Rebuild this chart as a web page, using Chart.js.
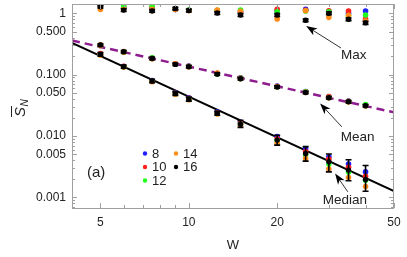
<!DOCTYPE html>
<html>
<head>
<meta charset="utf-8">
<script src="https://cdn.jsdelivr.net/npm/chart.js@4.4.1/dist/chart.umd.min.js"></script>
<style>
  html, body { margin: 0; padding: 0; background: #fff; }
  #wrap { width: 407px; height: 257px; }
</style>
</head>
<body>
<div id="wrap"><canvas id="chart" width="407" height="257"></canvas></div>
<script>
// system widths W
var W = [5, 6, 7.5, 9, 10, 12.5, 15, 20, 25, 30, 35, 40];

// N values and their colours
var sizes = ['8', '10', '12', '14', '16'];
var colors = ['#1f1fff', '#ff1f1f', '#1fff1f', '#ff8c1a', '#000000'];

// maximum S_N for each N
var max8  = [1.30, 1.22, 1.20, 1.15, 1.12, 1.08, 1.05, 1.10, 1.16, 1.05, 1.00, 1.09];
var max10 = [1.32, 1.25, 1.24, 1.17, 1.12, 1.10, 1.06, 1.16, 1.12, 1.10, 1.09, 0.81];
var max12 = [1.37, 1.32, 1.32, 1.18, 1.13, 1.12, 1.13, 1.06, 1.09, 1.06, 0.91, 0.94];
var max14 = [1.16, 1.15, 1.16, 1.15, 1.10, 1.13, 1.08, 0.81, 1.10, 0.86, 0.93, 0.75];
var max16 = [1.28, 1.13, 1.09, 1.20, 1.11, 1.01, 0.94, 0.94, 0.77, 1.00, 0.80, 0.70];

// mean S_N
var mean8  = [0.300, 0.232, 0.186, 0.149, 0.138, 0.104, 0.089, 0.0650, 0.0530, 0.0430, 0.0372, 0.0318];
var mean10 = [0.306, 0.238, 0.187, 0.150, 0.137, 0.105, 0.088, 0.0640, 0.0520, 0.0440, 0.0368, 0.0320];
var mean12 = [0.302, 0.235, 0.188, 0.148, 0.136, 0.103, 0.087, 0.0635, 0.0525, 0.0425, 0.0365, 0.0325];
var mean14 = [0.298, 0.233, 0.182, 0.151, 0.134, 0.106, 0.086, 0.0638, 0.0515, 0.0422, 0.0358, 0.0308];
var mean16 = [0.304, 0.236, 0.184, 0.147, 0.135, 0.102, 0.0857, 0.0628, 0.0513, 0.0420, 0.0361, 0.0311];

// median S_N
var med8  = [0.216, 0.136, 0.080, 0.051, 0.042, 0.0245, 0.0168, 0.0098, 0.0062, 0.0046, 0.0035, 0.0026];
var med10 = [0.222, 0.137, 0.079, 0.050, 0.041, 0.0240, 0.0162, 0.0090, 0.0056, 0.0042, 0.0031, 0.0022];
var med12 = [0.212, 0.134, 0.078, 0.049, 0.040, 0.0232, 0.0155, 0.0084, 0.0049, 0.0035, 0.0026, 0.0019];
var med14 = [0.210, 0.133, 0.077, 0.048, 0.039, 0.0228, 0.0150, 0.0076, 0.0043, 0.0029, 0.0021, 0.0015];
var med16 = [0.214, 0.135, 0.0787, 0.0495, 0.040, 0.0234, 0.0156, 0.00857, 0.0052, 0.0038, 0.00278, 0.00196];

// error bars (N = 16)
var maxLo16  = [1.22, 1.07, 1.04, 1.14, 1.05, 0.96, 0.89, 0.89, 0.73, 0.95, 0.76, 0.66];
var maxHi16  = [1.35, 1.19, 1.15, 1.26, 1.17, 1.06, 0.99, 0.99, 0.81, 1.05, 0.84, 0.74];
var meanLo16 = [0.290, 0.226, 0.176, 0.141, 0.129, 0.098, 0.0820, 0.0600, 0.0490, 0.0401, 0.0345, 0.0297];
var meanHi16 = [0.318, 0.247, 0.192, 0.154, 0.141, 0.107, 0.0895, 0.0657, 0.0537, 0.0440, 0.0378, 0.0326];
var medLo16  = [0.200, 0.127, 0.074, 0.046, 0.037, 0.0218, 0.0138, 0.0071, 0.0039, 0.0026, 0.00186, 0.00126];
var medHi16  = [0.229, 0.144, 0.084, 0.053, 0.043, 0.0252, 0.0180, 0.0103, 0.0067, 0.0051, 0.0041, 0.0033];

// fitted lines (end points)
var meanFitW = [4, 50];
var meanFitS = [0.36, 0.0243];
var medFitW = [4, 50];
var medFitS = [0.33, 0.00126];

// ticks
var xTicks = [5, 10, 20, 50];
var yTicks = [0.001, 0.005, 0.01, 0.05, 0.1, 0.5, 1];
var yTickLabels = ['0.001', '0.005', '0.010', '0.050', '0.100', '0.500', '1'];

var maxSets = [max8, max10, max12, max14, max16];
var meanSets = [mean8, mean10, mean12, mean14, mean16];
var medSets = [med8, med10, med12, med14, med16];

function pts(xs, ys) {
  return xs.map(function(x, i) { return { x: x, y: ys[i] }; });
}

var datasets = [];
sizes.forEach(function(n, k) {
  [maxSets, meanSets, medSets].forEach(function(group) {
    datasets.push({
      type: 'scatter',
      label: n,
      data: pts(W, group[k]),
      backgroundColor: colors[k],
      borderWidth: 0,
      pointRadius: k === 4 ? 2.7 : 2.8,
      order: 10 - k
    });
  });
});
datasets.push({
  type: 'line', label: 'meanfit', data: pts(meanFitW, meanFitS),
  borderColor: '#8e1c8e', borderWidth: 2.5, borderDash: [8, 5],
  pointRadius: 0, fill: false, order: 20
});
datasets.push({
  type: 'line', label: 'medfit', data: pts(medFitW, medFitS),
  borderColor: '#000', borderWidth: 2, pointRadius: 0, fill: false, order: 20
});

var errorBars = [[maxLo16, maxHi16], [meanLo16, meanHi16], [medLo16, medHi16]];

// annotations: [text, textW, textS, tailW, tailS, headW, headS]
var notes = [
  ['Max', 33, 0.209, 33, 0.272, 25.1, 0.62],
  ['Mean', 32.9, 0.0096, 33.2, 0.0141, 28, 0.034],
  ['Median', 28.6, 0.0009, 34.8, 0.00123, 31.5, 0.00245]
];

var FONT = '"Liberation Sans", Arial, sans-serif';

var extras = {
  id: 'extras',
  afterDatasetsDraw: function(chart) {
    var ctx = chart.ctx, xs = chart.scales.x, ys = chart.scales.y;
    var a = chart.chartArea;
    ctx.save();
    // error bars
    ctx.strokeStyle = '#000';
    ctx.lineWidth = 1.6;
    errorBars.forEach(function(eb) {
      W.forEach(function(w, i) {
        var x = xs.getPixelForValue(w);
        var y1 = ys.getPixelForValue(eb[0][i]);
        var y2 = ys.getPixelForValue(eb[1][i]);
        ctx.beginPath();
        ctx.moveTo(x, y1); ctx.lineTo(x, y2);
        ctx.moveTo(x - 3, y1); ctx.lineTo(x + 3, y1);
        ctx.moveTo(x - 3, y2); ctx.lineTo(x + 3, y2);
        ctx.stroke();
      });
    });
    // frame with inward ticks
    ctx.strokeStyle = '#a0a0a0';
    ctx.lineWidth = 1;
    ctx.strokeRect(a.left + 0.5, a.top + 0.5, a.right - a.left - 1, a.bottom - a.top);
    var dec, m, v, p, len;
    for (dec = 0; dec <= 1; dec++) {
      for (m = 1; m <= 9; m++) {
        v = m * Math.pow(10, dec);
        if (v < xs.min || v > xs.max) continue;
        p = Math.round(xs.getPixelForValue(v)) + 0.5;
        len = xTicks.indexOf(v) >= 0 ? 5 : 3;
        ctx.beginPath();
        ctx.moveTo(p, a.bottom); ctx.lineTo(p, a.bottom - len);
        ctx.moveTo(p, a.top); ctx.lineTo(p, a.top + len);
        ctx.stroke();
      }
    }
    for (dec = -4; dec <= 0; dec++) {
      for (m = 1; m <= 9; m++) {
        v = m * Math.pow(10, dec);
        if (v < ys.min || v > ys.max) continue;
        p = Math.round(ys.getPixelForValue(v)) + 0.5;
        len = (m === 1 || m === 5) ? 5 : 3;
        ctx.beginPath();
        ctx.moveTo(a.left, p); ctx.lineTo(a.left + len, p);
        ctx.moveTo(a.right, p); ctx.lineTo(a.right - len, p);
        ctx.stroke();
      }
    }
    // legend
    ctx.font = '13px ' + FONT;
    ctx.textBaseline = 'middle';
    ctx.textAlign = 'left';
    var lx = [145, 176], ly = [153.5, 167, 180.5];
    sizes.forEach(function(n, k) {
      var col = k < 3 ? 0 : 1, row = k < 3 ? k : k - 3;
      ctx.fillStyle = colors[k];
      ctx.beginPath();
      ctx.arc(lx[col], ly[row], 2.2, 0, Math.PI * 2);
      ctx.fill();
      ctx.fillStyle = '#222';
      ctx.fillText(n, lx[col] + 7, ly[row] + 0.5);
    });
    ctx.font = '15px ' + FONT;
    ctx.fillText('(a)', 87, 173);
    // annotations
    notes.forEach(function(nt) {
      ctx.fillStyle = '#222';
      ctx.font = '13.5px ' + FONT;
      ctx.textAlign = 'left';
      ctx.fillText(nt[0], xs.getPixelForValue(nt[1]), ys.getPixelForValue(nt[2]));
      var tx = xs.getPixelForValue(nt[3]), ty = ys.getPixelForValue(nt[4]);
      var hx = xs.getPixelForValue(nt[5]), hy = ys.getPixelForValue(nt[6]);
      var ang = Math.atan2(hy - ty, hx - tx);
      ctx.strokeStyle = '#333';
      ctx.lineWidth = 1;
      ctx.beginPath();
      ctx.moveTo(tx, ty);
      ctx.lineTo(hx - 8 * Math.cos(ang), hy - 8 * Math.sin(ang));
      ctx.stroke();
      ctx.fillStyle = '#000';
      ctx.beginPath();
      ctx.moveTo(hx, hy);
      ctx.lineTo(hx - 11 * Math.cos(ang) + 4 * Math.sin(ang), hy - 11 * Math.sin(ang) - 4 * Math.cos(ang));
      ctx.lineTo(hx - 8 * Math.cos(ang), hy - 8 * Math.sin(ang));
      ctx.lineTo(hx - 11 * Math.cos(ang) - 4 * Math.sin(ang), hy - 11 * Math.sin(ang) + 4 * Math.cos(ang));
      ctx.closePath();
      ctx.fill();
    });
    // y axis title: overlined S with subscript N
    ctx.save();
    ctx.translate(20, 108);
    ctx.rotate(-Math.PI / 2);
    ctx.fillStyle = '#222';
    ctx.strokeStyle = '#222';
    ctx.textAlign = 'left';
    ctx.textBaseline = 'alphabetic';
    ctx.font = 'italic 15px ' + FONT;
    ctx.fillText('S', -9, 5);
    var sw = ctx.measureText('S').width;
    ctx.beginPath();
    ctx.moveTo(-9, -8.5); ctx.lineTo(-9 + sw + 1, -8.5);
    ctx.lineWidth = 1;
    ctx.stroke();
    ctx.font = 'italic 10px ' + FONT;
    ctx.fillText('N', -9 + sw + 0.5, 8);
    ctx.restore();
    ctx.restore();
  }
};

var config = {
  type: 'scatter',
  data: { datasets: datasets },
  options: {
    responsive: false,
    animation: false,
    events: [],
    layout: { padding: { top: 4, right: 13, left: 0, bottom: 0 } },
    plugins: { legend: { display: false }, tooltip: { enabled: false } },
    scales: {
      x: {
        type: 'logarithmic',
        min: 4,
        max: 50,
        grid: { display: false, drawTicks: false },
        border: { display: false },
        afterBuildTicks: function(scale) {
          scale.ticks = xTicks.map(function(v) { return { value: v }; });
        },
        afterFit: function(scale) {
          scale.height = 49;
          scale.paddingLeft = 0;
          scale.paddingRight = 0;
        },
        ticks: {
          autoSkip: false, maxRotation: 0, padding: 7, color: '#222',
          font: { family: FONT, size: 12 },
          callback: function(v) { return String(v); }
        },
        title: {
          display: true, text: 'W', color: '#222', padding: { top: 6 },
          font: { family: FONT, size: 13 }
        }
      },
      y: {
        type: 'logarithmic',
        min: 0.00067,
        max: 1.42,
        grid: { display: false, drawTicks: false },
        border: { display: false },
        afterBuildTicks: function(scale) {
          scale.ticks = yTicks.map(function(v) { return { value: v }; });
        },
        afterFit: function(scale) {
          scale.width = 72;
          scale.paddingTop = 0;
          scale.paddingBottom = 0;
        },
        ticks: {
          autoSkip: false, padding: 6, color: '#222',
          font: { family: FONT, size: 12 },
          callback: function(v) {
            var i = yTicks.indexOf(v);
            return i >= 0 ? yTickLabels[i] : '';
          }
        }
      }
    }
  },
  plugins: [extras]
};

window.onload = function() {
  var ctx = document.getElementById('chart').getContext('2d');
  window.myChart = new Chart(ctx, config);
};
</script>
</body>
</html>
